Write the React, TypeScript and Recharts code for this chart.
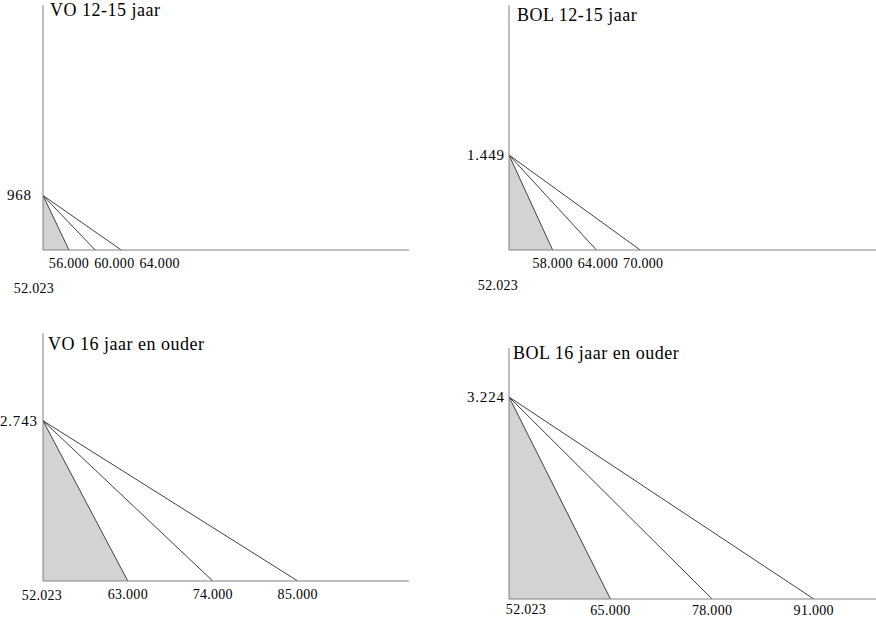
import React from "react";
import { Area, ComposedChart, Line, XAxis, YAxis } from "recharts";

const titles = ["VO 12-15 jaar", "BOL 12-15 jaar", "VO 16 jaar en ouder", "BOL 16 jaar en ouder"];
const baseIncome = 52023;
const peakValues = [968, 1449, 2743, 3224];
const endIncomes = [
  [56000, 60000, 64000],
  [58000, 64000, 70000],
  [63000, 74000, 85000],
  [65000, 78000, 91000],
];

// geometry of each panel (axis corner, plot size, axis maxima, label offsets)
const panels = [
  { axisX: 43, top: 5, plotW: 366, plotH: 245, xMax: 108000, yMax: 4350, yDx: -36, originDx: -9, originDy: 38, ownRow: true, tickDy: 18, titleX: 50, titleY: 16 },
  { axisX: 509, top: 5, plotW: 367, plotH: 245, xMax: 102300, yMax: 3737, yDx: -42, originDx: -11, originDy: 35, ownRow: true, tickDy: 18, titleX: 517, titleY: 21 },
  { axisX: 43, top: 333, plotW: 366, plotH: 248, xMax: 99400, yMax: 4244, yDx: -43, originDx: -1, originDy: 14, ownRow: false, tickDy: 18, titleX: 48, titleY: 350 },
  { axisX: 509, top: 348, plotW: 367, plotH: 251, xMax: 98960, yMax: 4006, yDx: -42, originDx: 17, originDy: 10, ownRow: false, tickDy: 16, titleX: 513, titleY: 359 },
];

const FONT = '"Liberation Serif", "Times New Roman", serif';
const AXIS = "#808080";
const STROKE = "#404040";
const Y_AXIS_W = 50;
const X_AXIS_H = 50;
const TICK_FS = 14;
const TICK_LS = 0.3;

const fmt = (n: number) => String(n).replace(/\B(?=(\d{3})+(?!\d))/g, ".");

const labelWidth = (s: string) => {
  let w = 0;
  for (const c of s) w += c === "." ? 0.25 : 0.5;
  return w * TICK_FS + s.length * TICK_LS;
};

function Panel({ idx }: { idx: number }) {
  const p = panels[idx];
  const peak = peakValues[idx];
  const ends = endIncomes[idx];
  const ticks = [baseIncome, ...ends];
  const seg = (end: number) => [
    { x: baseIncome, y: peak },
    { x: end, y: 0 },
  ];

  // keeps labels from running into each other, left to right
  const state = { end: -Infinity };

  const renderXTick = (props: any) => {
    const { x, y, payload } = props;
    const v = payload.value as number;
    const text = fmt(v);
    const w = labelWidth(text);
    if (v === baseIncome) {
      const cx = x + p.originDx;
      state.end = p.ownRow ? -Infinity : cx + w / 2;
      return (
        <text x={cx} y={y + p.originDy + 4.6} textAnchor="middle" fontSize={TICK_FS} letterSpacing={TICK_LS} fontFamily={FONT} fill="#000">
          {text}
        </text>
      );
    }
    const start = Math.max(x - w / 2, state.end + 5);
    state.end = start + w;
    return (
      <text x={start} y={y + p.tickDy} textAnchor="start" fontSize={TICK_FS} letterSpacing={TICK_LS} fontFamily={FONT} fill="#000">
        {text}
      </text>
    );
  };

  const renderYTick = (props: any) => {
    const { x, y, payload } = props;
    return (
      <text x={x + p.yDx} y={y + 5} textAnchor="start" fontSize={15} letterSpacing={0.8} fontFamily={FONT} fill="#000">
        {fmt(payload.value)}
      </text>
    );
  };

  return (
    <div style={{ position: "absolute", left: p.axisX - Y_AXIS_W, top: p.top }}>
      <ComposedChart
        width={p.plotW + Y_AXIS_W}
        height={p.plotH + X_AXIS_H}
        margin={{ top: 0, right: 0, bottom: 0, left: 0 }}
      >
        <Area
          data={seg(ends[0])}
          dataKey="y"
          type="linear"
          fill="#d3d3d3"
          fillOpacity={1}
          stroke={STROKE}
          strokeWidth={1}
          dot={false}
          activeDot={false}
          isAnimationActive={false}
        />
        {ends.slice(1).map((e) => (
          <Line
            key={e}
            data={seg(e)}
            dataKey="y"
            type="linear"
            stroke={STROKE}
            strokeWidth={1}
            dot={false}
            activeDot={false}
            isAnimationActive={false}
          />
        ))}
        <XAxis
          type="number"
          dataKey="x"
          domain={[baseIncome, p.xMax]}
          ticks={ticks}
          interval={0}
          allowDataOverflow
          tickLine={false}
          tickSize={0}
          tickMargin={0}
          axisLine={{ stroke: AXIS }}
          tick={renderXTick}
          height={X_AXIS_H}
        />
        <YAxis
          type="number"
          domain={[0, p.yMax]}
          ticks={[peak]}
          interval={0}
          allowDataOverflow
          tickLine={false}
          tickSize={0}
          tickMargin={0}
          axisLine={{ stroke: AXIS }}
          tick={renderYTick}
          width={Y_AXIS_W}
        />
      </ComposedChart>
    </div>
  );
}

export default function App() {
  return (
    <div
      style={{
        position: "absolute",
        left: 0,
        top: 0,
        width: 876,
        height: 618,
        overflow: "hidden",
        background: "#fff",
      }}
    >
      {panels.map((_, i) => (
        <Panel key={i} idx={i} />
      ))}
      <svg width={876} height={618} style={{ position: "absolute", left: 0, top: 0, pointerEvents: "none" }}>
        {panels.map((p, i) => (
          <text key={i} x={p.titleX} y={p.titleY} fontSize={18} letterSpacing={0.5} fontFamily={FONT} fill="#000">
            {titles[i]}
          </text>
        ))}
      </svg>
    </div>
  );
}
